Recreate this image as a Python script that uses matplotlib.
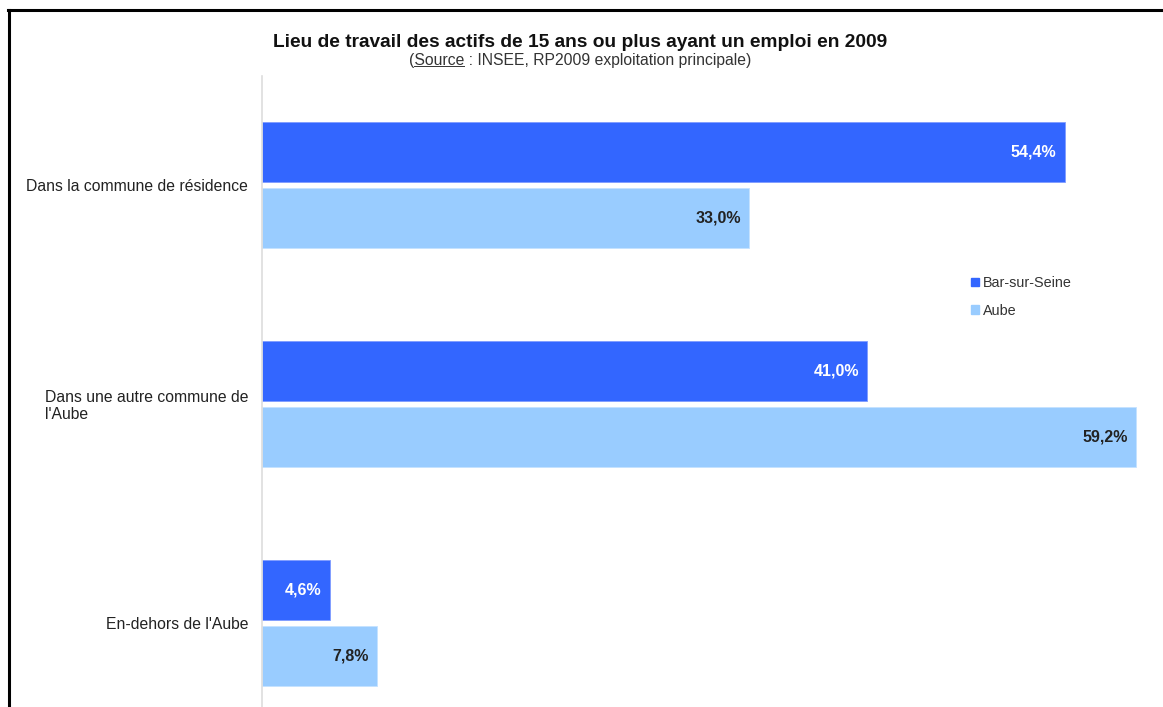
import numpy as np
import matplotlib.pyplot as plt
from matplotlib.patches import Patch
from matplotlib.lines import Line2D

# données (INSEE, RP2009)
categories = ["Dans la commune de résidence", "Dans une autre commune de\nl'Aube", "En-dehors de l'Aube"]
bar_sur_seine = [54.4, 41.0, 4.6]
aube = [33.0, 59.2, 7.8]
series_names = ["Bar-sur-Seine", "Aube"]

plt.rcParams['font.family'] = ['Liberation Sans', 'DejaVu Sans']

W, H = 1163, 707
fig = plt.figure(figsize=(W / 100, H / 100), dpi=100)

# position de l'axe en pixels (le bas sort de l'image comme dans l'original)
x0, x1 = 262, 262 + 60 * 14.76
y_top, y_bot = 75.5, 732.5
ax = fig.add_axes([x0 / W, 1 - y_bot / H, (x1 - x0) / W, (y_bot - y_top) / H])

col_dark = '#3366ff'
col_light = '#99ccff'
h = 0.275
pos = np.arange(len(categories))

b1 = ax.barh(pos - 0.152, bar_sur_seine, height=h, color=col_dark, edgecolor='#7f9cff', linewidth=0.6)
b2 = ax.barh(pos + 0.152, aube, height=h, color=col_light, edgecolor='#c5e2ff', linewidth=0.6)

def fmt(v):
    return f"{v:.1f}%".replace('.', ',')

for bars, vals, c in [(b1, bar_sur_seine, 'white'), (b2, aube, '#222222')]:
    for b, v in zip(bars, vals):
        ax.annotate(fmt(v), (v, b.get_y() + b.get_height() / 2), xytext=(-6, 0),
                    textcoords='offset points', ha='right', va='center',
                    fontsize=11.5, fontweight='bold', color=c)

ax.set_xlim(0, 60)
ax.set_ylim(len(categories) - 0.5, -0.5)
ax.set_yticks(pos)
ax.set_yticklabels(categories, fontsize=11.3, color='#222222', ha='right', linespacing=1.1)
for t in ax.get_yticklabels():
    t.set_multialignment('left')
ax.tick_params(axis='y', length=0, pad=10)
ax.set_xticks([])
for s in ['top', 'right', 'bottom']:
    ax.spines[s].set_visible(False)
ax.spines['left'].set_color('#dddddd')
ax.spines['left'].set_linewidth(1.2)

# légende
handles = [Patch(color=col_dark), Patch(color=col_light)]
fig.legend(handles, series_names, loc='upper left', bbox_to_anchor=(958 / W, 1 - 263 / H),
           frameon=False, fontsize=10.4, handlelength=0.55, handleheight=0.55,
           handletextpad=0.3, labelspacing=0.95, labelcolor='#333333')

# titre et sous-titre
fig.text(580 / W, 1 - 42.5 / H, "Lieu de travail des actifs de 15 ans ou plus ayant un emploi en 2009",
         ha='center', va='center', fontsize=13.8, fontweight='bold', color='#111111')
fs_sub = 11.3
sub = fig.text(580 / W, 1 - 60 / H, "(Source : INSEE, RP2009 exploitation principale)",
               ha='center', va='center', fontsize=fs_sub, color='#333333')

# souligner "Source"
r = fig.canvas.get_renderer()
bb = sub.get_window_extent(r)
t1 = fig.text(0, 0, "(", fontsize=fs_sub)
t2 = fig.text(0, 0, "(Source", fontsize=fs_sub)
w1 = t1.get_window_extent(r).width
w2 = t2.get_window_extent(r).width
t1.remove()
t2.remove()
uy = (bb.y0 + 2) / H
fig.add_artist(Line2D([(bb.x0 + w1) / W, (bb.x0 + w2) / W], [uy, uy], color='#333333', linewidth=0.7))

# cadre noir
fig.add_artist(Line2D([8 / W, 1], [1 - 10 / H, 1 - 10 / H], color='black', linewidth=2.2))
fig.add_artist(Line2D([9 / W, 9 / W], [0, 1 - 10 / H], color='black', linewidth=2.2))

fig.savefig('out.png', dpi=100)
